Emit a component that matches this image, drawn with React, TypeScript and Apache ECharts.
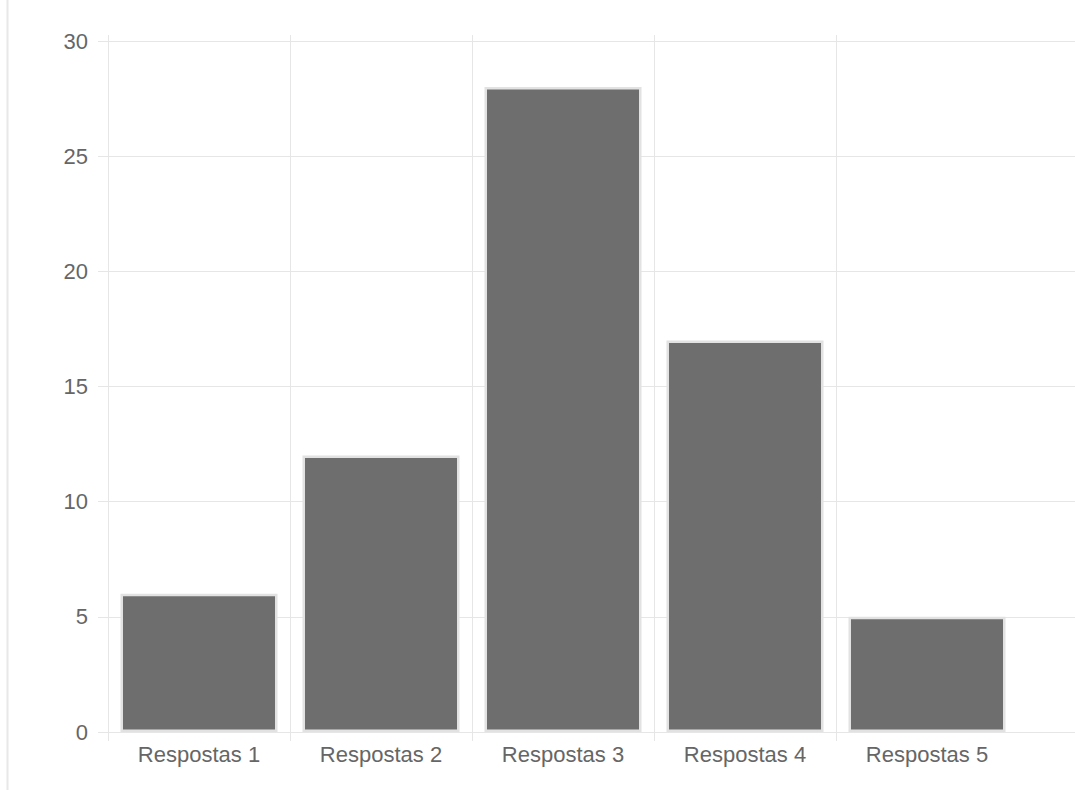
import React, { useEffect, useRef } from "react";
import * as echarts from "echarts";

const categories = ["Respostas 1", "Respostas 2", "Respostas 3", "Respostas 4", "Respostas 5"];
const values = [6, 12, 28, 17, 5];
const yMin = 0;
const yMax = 30;
const yStep = 5;

const GRID_COLOR = "#e6e6e6";
const TEXT_COLOR = "#666666";
const FONT = "'Liberation Sans', Arial, Helvetica, sans-serif";

// plot geometry
const PLOT_TOP = 41;
const PLOT_BOTTOM = 732;
const GRID_LINE_TOP = 35; // vertical grid lines start slightly above the top gridline

export default function App() {
  const ref = useRef<HTMLDivElement>(null);
  useEffect(() => {
    if (!ref.current) return;
    const chart = echarts.init(ref.current, undefined, { renderer: "svg" });
    const barAxisMax =
      yMax * (PLOT_BOTTOM - GRID_LINE_TOP) / (PLOT_BOTTOM - PLOT_TOP);
    chart.setOption({
      animation: false,
      backgroundColor: "#ffffff",
      textStyle: { fontFamily: FONT },
      graphic: [
        {
          type: "line",
          shape: { x1: 7.5, y1: 0, x2: 7.5, y2: 790 },
          style: { stroke: "#e8e8e8", lineWidth: 2 },
          silent: true,
        },
        {
          type: "rect",
          shape: { x: 1015, y: 733, width: 6, height: 12 },
          style: { fill: "#ffffff" },
          silent: true,
          z: 100,
        },
      ],
      grid: [
        { left: 108, right: 57, top: GRID_LINE_TOP, bottom: 790 - PLOT_BOTTOM },
        { left: 108, right: 0, top: PLOT_TOP, bottom: 790 - PLOT_BOTTOM },
      ],
      xAxis: [
        {
          type: "category",
          gridIndex: 0,
          data: categories,
          boundaryGap: true,
          axisLine: { show: false },
          axisTick: { show: true, length: 9, lineStyle: { color: GRID_COLOR } },
          splitLine: {
            show: true,
            showMinLine: true,
            showMaxLine: false,
            lineStyle: { color: GRID_COLOR, width: 1 },
          },
          axisLabel: {
            color: TEXT_COLOR,
            fontSize: 22,
            fontFamily: FONT,
            margin: 11,
          },
        },
        {
          type: "value",
          gridIndex: 1,
          min: 0,
          max: 1,
          axisLine: { show: true, lineStyle: { color: GRID_COLOR } },
          axisTick: { show: false },
          axisLabel: { show: false },
          splitLine: { show: false },
        },
      ],
      yAxis: [
        {
          type: "value",
          gridIndex: 0,
          min: yMin,
          max: barAxisMax,
          show: false,
          splitLine: { show: false },
        },
        {
          type: "value",
          gridIndex: 1,
          min: yMin,
          max: yMax,
          interval: yStep,
          axisLine: { show: true, lineStyle: { color: GRID_COLOR } },
          axisTick: { show: true, length: 10, lineStyle: { color: GRID_COLOR } },
          splitLine: { show: true, lineStyle: { color: GRID_COLOR, width: 1 } },
          axisLabel: {
            color: TEXT_COLOR,
            fontSize: 22,
            fontFamily: FONT,
            margin: 20,
            padding: [0, 0, 6, 0],
          },
        },
      ],
      series: [
        {
          type: "bar",
          xAxisIndex: 0,
          yAxisIndex: 0,
          data: values,
          barWidth: 157,
          itemStyle: {
            color: "#6e6e6e",
            borderColor: "#e2e2e2",
            borderWidth: 2.5,
          },
        },
      ],
    });
    return () => chart.dispose();
  }, []);
  return (
    <div
      ref={ref}
      style={{ position: "fixed", left: 0, top: 0, width: 1075, height: 790 }}
    />
  );
}
